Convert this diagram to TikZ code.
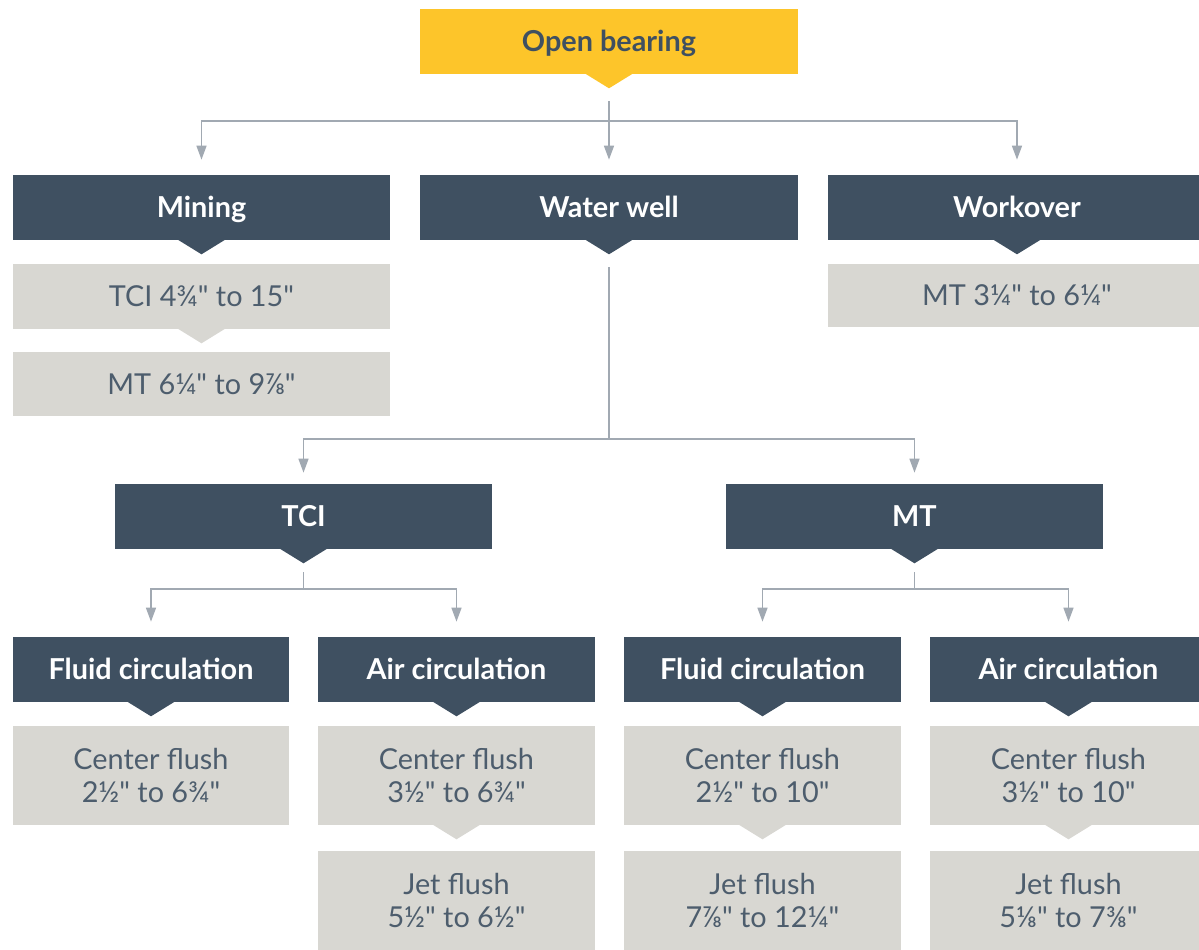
\documentclass[tikz,border=0pt]{standalone}
\usepackage{fontspec}
\setmainfont{Lato}[Ligatures=TeXOff]
\usetikzlibrary{arrows.meta, positioning}

\definecolor{obyellow}{HTML}{FDC52A}
\definecolor{navy}{HTML}{3F5061}
\definecolor{stone}{HTML}{D8D7D2}
\definecolor{wire}{HTML}{A1A9B2}
\definecolor{ink}{HTML}{4D5D6D}

\begin{document}
\begin{tikzpicture}[x=0.025cm, y=-0.025cm,
    head node/.style={rectangle, fill=navy, text=white, inner sep=0pt,
        text height=17.4pt, text depth=3.1pt,
        minimum height=1.625cm, font=\fontsize{20.5}{24}\selectfont\bfseries},
    size node/.style={rectangle, fill=stone, text=ink, inner sep=0pt, align=center,
        font=\fontsize{20.5}{24}\selectfont},
    wide/.style={minimum width=9.425cm},
    narrow/.style={minimum width=6.9cm},
    arrow/.style={draw=wire, line width=1.4pt, -{Triangle[width=7pt, length=10pt]},
        shorten >=0.375cm}
    ]

    \useasboundingbox (0,0) rectangle (1199,949);
    \fill[white] (0,0) rectangle (1199,949);
    \clip (0,0) rectangle (1199,949);

    % top
    \node[head node, wide, fill=obyellow, text=navy] (OB) at (609,41.5) {Open bearing};

    % first row
    \node[head node, wide] (MIN) at (201.5,207.5) {Mining};
    \node[head node, wide] (WW) at (609,207.5) {Water well};
    \node[head node, wide] (WO) at (1017,207.5) {Workover};

    \node[size node, wide, minimum height=1.625cm] (MINTCI) at (201.5,296.5) {TCI 4¾" to 15"};
    \node[size node, wide, minimum height=1.575cm] (MINMT) at (201.5,384) {MT 6¼" to 9⅞"};
    \node[size node, wide, minimum height=1.575cm] (WOMT) at (1017,295.5) {MT 3¼" to 6¼"};

    % water well bits
    \node[head node, wide] (TCI) at (303.5,516.5) {TCI};
    \node[head node, wide] (MT) at (914.5,516.5) {MT};

    \node[head node, narrow] (TFC) at (151,669.5) {Fluid circulation};
    \node[head node, narrow] (TAC) at (456.5,669.5) {Air circulation};
    \node[head node, narrow] (MFC) at (762.5,669.5) {Fluid circulation};
    \node[head node, narrow] (MAC) at (1068.5,669.5) {Air circulation};

    \node[size node, narrow, minimum height=2.475cm] (TFCC) at (151,775.5) {Center flush\\2½" to 6¾"};
    \node[size node, narrow, minimum height=2.475cm] (TACC) at (456.5,775.5) {Center flush\\3½" to 6¾"};
    \node[size node, narrow, minimum height=2.475cm] (MFCC) at (762.5,775.5) {Center flush\\2½" to 10"};
    \node[size node, narrow, minimum height=2.475cm] (MACC) at (1068.5,775.5) {Center flush\\3½" to 10"};

    \node[size node, narrow, minimum height=2.475cm] (TACJ) at (456.5,900.5) {Jet flush\\5½" to 6½"};
    \node[size node, narrow, minimum height=2.475cm] (MFCJ) at (762.5,900.5) {Jet flush\\7⅞" to 12¼"};
    \node[size node, narrow, minimum height=2.475cm] (MACJ) at (1068.5,900.5) {Jet flush\\5⅛" to 7⅜"};

    % pointers under the boxes
    \foreach \n/\c in {OB/obyellow, MIN/navy, WW/navy, WO/navy, TCI/navy, MT/navy,
        TFC/navy, TAC/navy, MFC/navy, MAC/navy,
        MINTCI/stone, TACC/stone, MFCC/stone, MACC/stone}
        \fill[\c] ([xshift=-0.6cm, yshift=0.02cm]\n.south)
            -- ([yshift=-0.35cm]\n.south) coordinate (\n-tip)
            -- ([xshift=0.6cm, yshift=0.02cm]\n.south) -- cycle;

    % arrows
    \draw[arrow, shorten <=0.325cm] (OB-tip) -- ++(0,33) -| (MIN);
    \draw[arrow, shorten <=0.325cm] (OB-tip) -- (WW);
    \draw[arrow, shorten <=0.325cm] (OB-tip) -- ++(0,33) -| (WO);

    \draw[arrow, shorten <=0.325cm, shorten >=0.275cm] (WW-tip) -- ++(0,185) -| (TCI);
    \draw[arrow, shorten <=0.325cm, shorten >=0.275cm] (WW-tip) -- ++(0,185) -| (MT);

    \draw[arrow, shorten <=0.225cm] (TCI-tip) -- ++(0,26) -| (TFC);
    \draw[arrow, shorten <=0.225cm] (TCI-tip) -- ++(0,26) -| (TAC);
    \draw[arrow, shorten <=0.225cm] (MT-tip) -- ++(0,26) -| (MFC);
    \draw[arrow, shorten <=0.225cm] (MT-tip) -- ++(0,26) -| (MAC);

\end{tikzpicture}
\end{document}
